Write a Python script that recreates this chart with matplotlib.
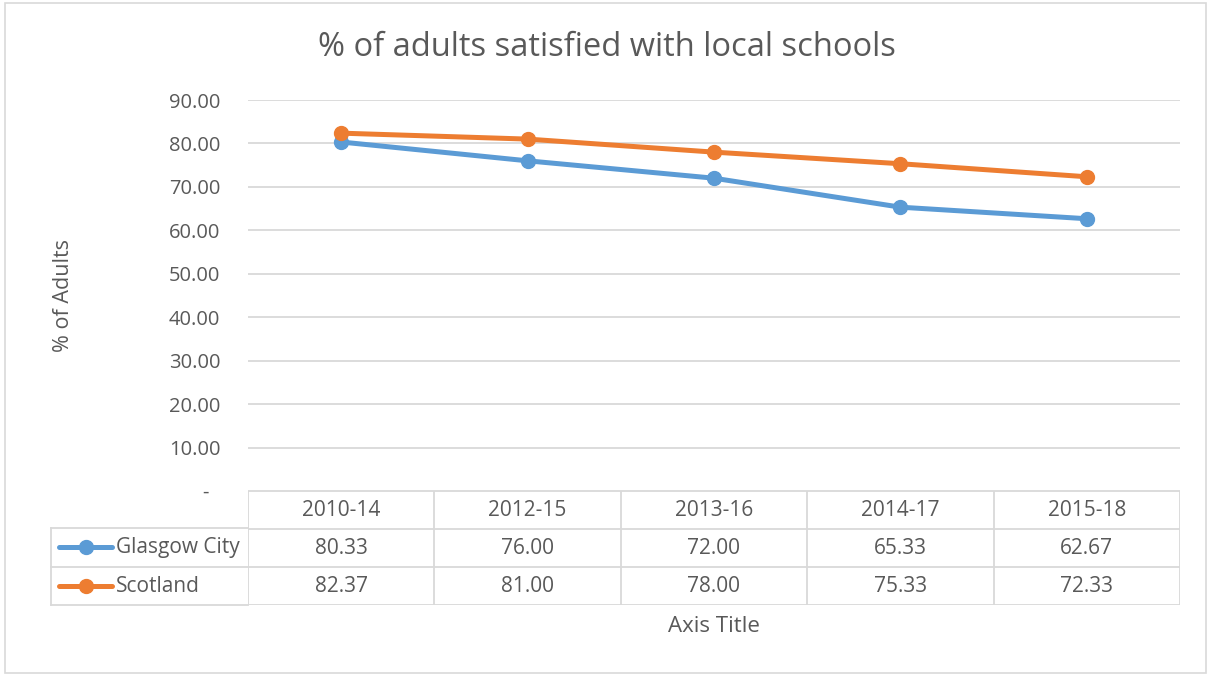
import matplotlib.pyplot as plt
from matplotlib.lines import Line2D
from matplotlib.patches import Rectangle

periods = ["2010-14", "2012-15", "2013-16", "2014-17", "2015-18"]
glasgow = [80.33, 76.00, 72.00, 65.33, 62.67]
scotland = [82.37, 81.00, 78.00, 75.33, 72.33]
series_names = ["Glasgow City", "Scotland"]
yticks = [0, 10, 20, 30, 40, 50, 60, 70, 80, 90]

BLUE = "#5B9BD5"
ORANGE = "#ED7D31"
GRID = "#D9D9D9"
TEXT = "#595959"

plt.rcParams["font.family"] = ["Open Sans", "DejaVu Sans"]

W, H = 1207, 675
fig = plt.figure(figsize=(W / 100, H / 100), dpi=100)


def fx(px):
    return px / W


def fy(py):
    return 1 - py / H


# outer chart border
fig.patches.append(Rectangle((fx(5), fy(673)), fx(1201), 670 / H, transform=fig.transFigure,
                             fill=False, edgecolor=GRID, linewidth=1.2))

left, right, top, base = 248, 1180, 100, 491
ax = fig.add_axes([fx(left), fy(base), fx(right - left), (base - top) / H])
x = list(range(len(periods)))
ax.plot(x, glasgow, color=BLUE, linewidth=3.6, marker="o", markersize=10, solid_capstyle="round")
ax.plot(x, scotland, color=ORANGE, linewidth=3.6, marker="o", markersize=10, solid_capstyle="round")
ax.set_xlim(-0.5, len(periods) - 0.5)
ax.set_ylim(0, 90)
ax.set_yticks(yticks)
ax.set_yticklabels(["-  "] + [f"{v:.2f}" for v in yticks[1:]], color=TEXT, fontsize=14.5)
ax.set_xticks([])
ax.tick_params(axis="y", length=0, pad=20)
ax.grid(axis="y", color=GRID, linewidth=1.3)
ax.set_axisbelow(True)
for s in ax.spines.values():
    s.set_visible(False)
ax.set_ylabel("% of Adults", color=TEXT, fontsize=15.5)
ax.yaxis.set_label_coords((74 - left) / (right - left), 0.5)

fig.text(fx(607), fy(47), "% of adults satisfied with local schools", ha="center", va="center",
         color=TEXT, fontsize=23.5)

# data table under the plot
tab = fig.add_axes([fx(left), fy(605), fx(right - left), 114 / H])
tab.set_xlim(-0.5, len(periods) - 0.5)
tab.set_ylim(3, 0)
tab.axis("off")
lw = 1.3
for i in range(len(periods) + 1):
    tab.plot([i - 0.5, i - 0.5], [0, 3], color=GRID, linewidth=lw)
for r in range(4):
    tab.plot([-0.5, len(periods) - 0.5], [r, r], color=GRID, linewidth=lw)
for i, p in enumerate(periods):
    tab.text(i, 0.5, p, ha="center", va="center", color=TEXT, fontsize=15)
    tab.text(i, 1.5, f"{glasgow[i]:.2f}", ha="center", va="center", color=TEXT, fontsize=15)
    tab.text(i, 2.5, f"{scotland[i]:.2f}", ha="center", va="center", color=TEXT, fontsize=15)

# legend column of the table
for py in (528, 567, 605):
    fig.add_artist(Line2D([fx(51), fx(left)], [fy(py), fy(py)], color=GRID, linewidth=lw))
fig.add_artist(Line2D([fx(51), fx(51)], [fy(528), fy(605)], color=GRID, linewidth=lw))
for name, color, py in zip(series_names, [BLUE, ORANGE], (547, 586)):
    fig.add_artist(Line2D([fx(59), fx(112)], [fy(py), fy(py)], color=color, linewidth=3.6,
                          solid_capstyle="round"))
    fig.add_artist(Line2D([fx(85.5)], [fy(py)], color=color, marker="o", markersize=10))
    fig.text(fx(116), fy(py), name, ha="left", va="center", color=TEXT, fontsize=15)

fig.text(fx(714), fy(627), "Axis Title", ha="center", va="center", color=TEXT, fontsize=16)

fig.savefig("out.png", dpi=100)
